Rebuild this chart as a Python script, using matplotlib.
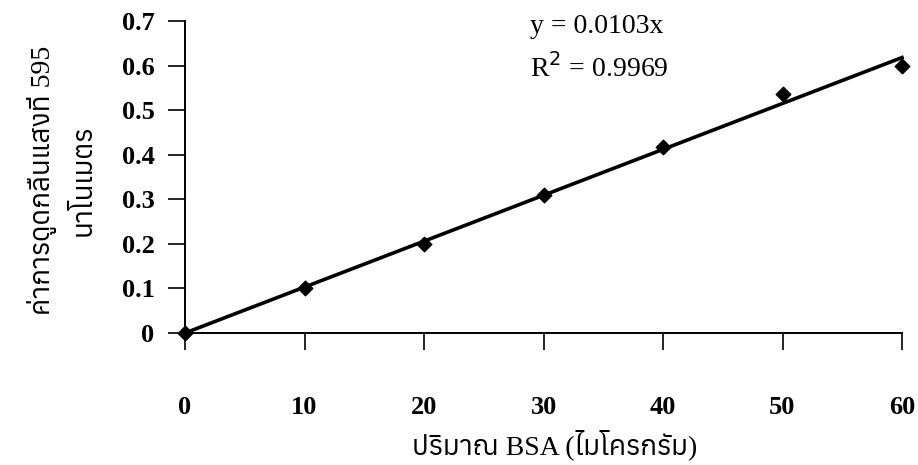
import matplotlib
matplotlib.use('Agg')
import matplotlib.pyplot as plt
from matplotlib import font_manager
from matplotlib.ft2font import FT2Font

# data
bsa = [0, 10, 20, 30, 40, 50, 60]
absorb = [0.0, 0.10, 0.20, 0.31, 0.417, 0.537, 0.60]
slope = 0.0103
r2 = 0.9969
xticks = [0, 10, 20, 30, 40, 50, 60]
yticks = [0, 0.1, 0.2, 0.3, 0.4, 0.5, 0.6, 0.7]


def thai_fonts():
    names = []
    for f in font_manager.fontManager.ttflist:
        try:
            if 0x0E01 in FT2Font(f.fname).get_charmap():
                names.append(f.name)
        except Exception:
            pass
    return sorted(set(names))


thai = thai_fonts()
serif = 'Liberation Serif'
fam = [serif] + thai + ['DejaVu Sans']

fig = plt.figure(figsize=(9.18, 4.65), dpi=100)
ax = fig.add_axes([185/918, 132/465, 717/918, 312/465])

ax.plot([0, 60], [0, slope * 60], color='black', lw=2.6, zorder=3, clip_on=False)
ax.scatter(bsa, absorb, marker='D', s=55, color='black', zorder=4, clip_on=False)

ax.set_xlim(0, 60)
ax.set_ylim(0, 0.7)
ax.set_xticks(xticks)
ax.set_yticks(yticks)
ax.set_xticklabels([str(v) for v in xticks])
ax.set_yticklabels(['0'] + ['%.1f' % v for v in yticks[1:]])
for lab in ax.get_xticklabels() + ax.get_yticklabels():
    lab.set_family(serif)
    lab.set_fontweight('bold')
    lab.set_fontsize(19)
ax.tick_params(axis='x', direction='out', length=12, width=1.2, pad=33)
ax.tick_params(axis='y', direction='out', length=12, width=1.2, pad=10)
ax.spines['top'].set_visible(False)
ax.spines['right'].set_visible(False)
ax.spines['left'].set_linewidth(1.4)
ax.spines['bottom'].set_linewidth(1.4)

ax.text(28.9, 0.715, 'y = 0.0103x', family=serif, fontsize=20, va='top')
ax.text(28.9, 0.595, 'R$^2$ = %.4f' % r2, family=serif, fontsize=20, va='center')

ax.set_xlabel('ปริมาณ BSA (ไมโครกรัม)', family=fam, fontsize=20)
ax.xaxis.set_label_coords(0.516, -0.31)
ax.set_ylabel('ค่าการดูดกลืนแสงที่ 595\nนาโนเมตร', family=fam, fontsize=20, linespacing=1.8)
ax.yaxis.set_label_coords(-0.172, 0.49)
ax.yaxis.label.set_va('center')

fig.savefig('out.png', dpi=100)
